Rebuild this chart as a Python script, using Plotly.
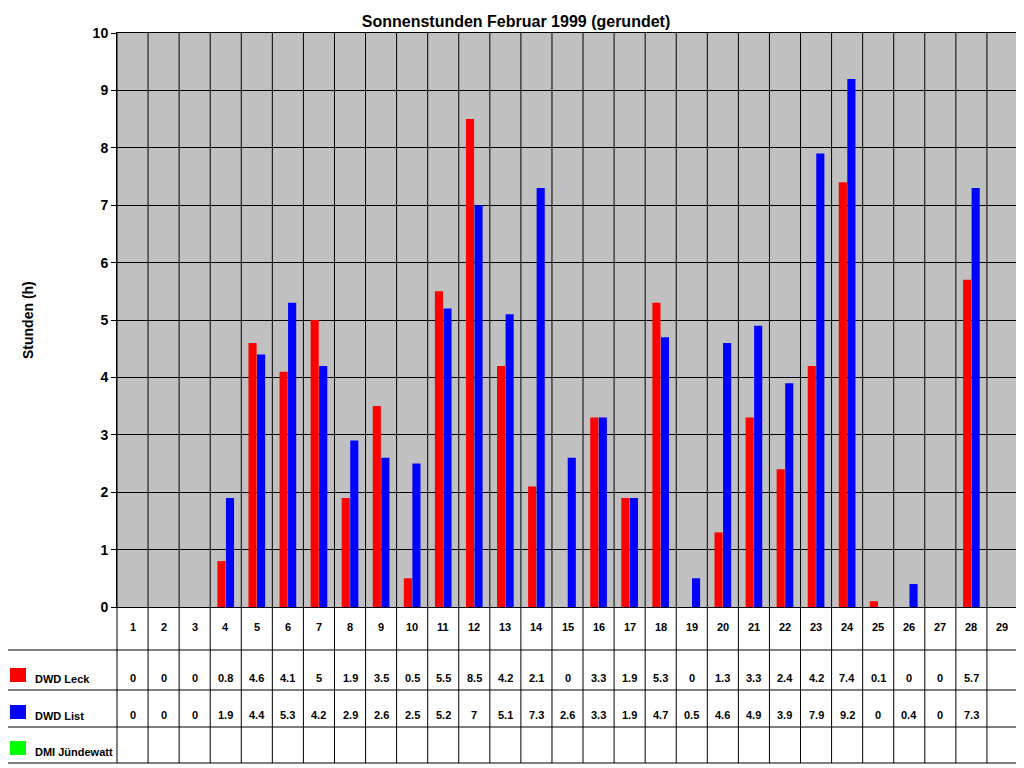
import plotly.graph_objects as go

days = list(range(1, 30))
leck = [0,0,0,0.8,4.6,4.1,5,1.9,3.5,0.5,5.5,8.5,4.2,2.1,0,3.3,1.9,5.3,0,1.3,3.3,2.4,4.2,7.4,0.1,0,0,5.7,None]
lst  = [0,0,0,1.9,4.4,5.3,4.2,2.9,2.6,2.5,5.2,7,5.1,7.3,2.6,3.3,1.9,4.7,0.5,4.6,4.9,3.9,7.9,9.2,0,0.4,0,7.3,None]
dmi  = [None]*29
series = [("DWD Leck", leck, "#FF0000"), ("DWD List", lst, "#0000FF"), ("DMI Jündewatt", dmi, "#00FF00")]

OFF = 8  # page margin
W, H = 1024 - OFF, 768 - OFF
L, R, T = 117 - OFF, 6, 33 - OFF
ph = 574
B = H - T - ph
pw = W - L - R
def py(p):  # page pixel y -> paper
    return (607 - p) / ph
def px(p):
    return (p - 117) / pw

fig = go.Figure()
for name, vals, col in series[:2]:
    fig.add_trace(go.Bar(x=days, y=[v if v else 0 for v in vals], name=name, marker_color=col,
                         marker_line_width=0, showlegend=False))

shapes, ann = [], []
font = dict(family="Liberation Sans", size=11, color="black")
def b(s): return f"<b>{s}</b>"
for d in days:
    shapes.append(dict(type="line", xref="x", yref="paper", x0=d+0.5, x1=d+0.5, y0=py(763), y1=1,
                       line=dict(color="black", width=1)))
    ann.append(dict(x=d, y=py(635), xref="x", yref="paper", text=b(d), showarrow=False, font=font))
shapes.append(dict(type="line", xref="paper", yref="paper", x0=px(7), x1=px(7), y0=py(763), y1=py(650), line=dict(color="black", width=1)))
shapes.append(dict(type="line", xref="paper", yref="paper", x0=0, x1=0, y0=py(763), y1=1, line=dict(color="black", width=1)))
shapes.append(dict(type="line", xref="paper", yref="paper", x0=1, x1=1, y0=py(763), y1=1, line=dict(color="black", width=1)))
for yy in [650, 690, 727, 763]:
    shapes.append(dict(type="line", xref="paper", yref="paper", x0=px(7), x1=1, y0=py(yy), y1=py(yy), line=dict(color="black", width=1)))
rows = [(650, 690), (690, 727), (727, 763)]
for (name, vals, col), (a, bb) in zip(series, rows):
    shapes.append(dict(type="rect", xref="paper", yref="paper", x0=px(10), x1=px(26), y0=py(bb-8), y1=py(bb-22),
                       fillcolor=col, line_width=0))
    ann.append(dict(x=px(33), y=py(bb-3), xref="paper", yref="paper", xanchor="left", yanchor="bottom",
                    text=b(name), showarrow=False, font=font))
    for d, v in zip(days, vals):
        if v is not None:
            ann.append(dict(x=d, y=py(bb-4), xref="x", yref="paper", yanchor="bottom",
                            text=b(f"{v:g}"), showarrow=False, font=font))
ann.append(dict(x=px(18), y=0.5, xref="paper", yref="paper", text=b("Stunden (h)"), textangle=-90, showarrow=False,
                font=dict(family="Liberation Sans", size=14, color="black")))

fig.update_layout(
    width=W, height=H, margin=dict(l=L, r=R, t=T, b=B), plot_bgcolor="#C0C0C0", paper_bgcolor="white",
    barmode="group", bargap=0.45, bargroupgap=0.05,
    title=dict(text=b("Sonnenstunden Februar 1999 (gerundet)"), x=0.5, xanchor="center", y=1 - 13/H, yanchor="middle",
               font=dict(family="Liberation Sans", size=16, color="black")),
    xaxis=dict(range=[0.5, 29.5], showticklabels=False, showgrid=False, zeroline=False, linecolor="black", showline=True, mirror=True),
    yaxis=dict(range=[0, 10], dtick=1, gridcolor="black", gridwidth=1, zeroline=False, showline=True, linecolor="black",
               mirror=True, ticks="outside", ticklen=5, tickcolor="black",
               tickfont=dict(family="Liberation Sans", size=14, color="black"), tickprefix="<b>", ticksuffix="</b>"),
    shapes=shapes, annotations=ann, font=font,
)
fig.write_html("out.html")
